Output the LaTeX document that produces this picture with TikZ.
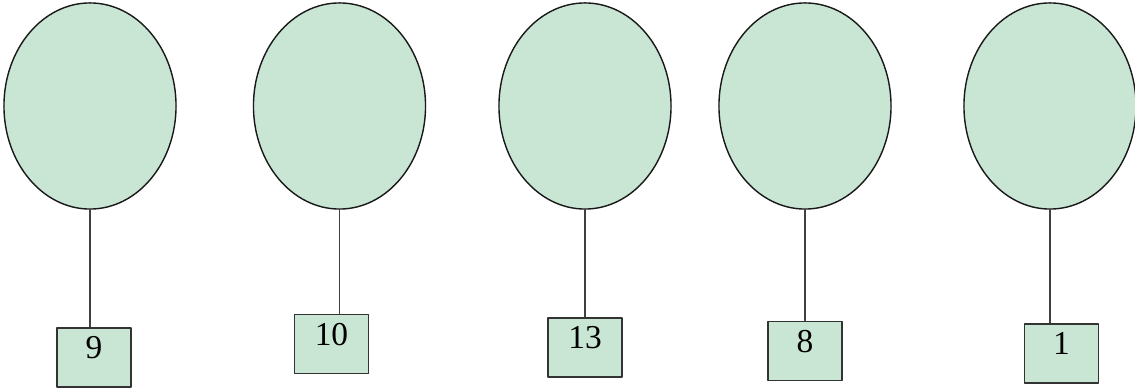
\documentclass[tikz,border=0pt]{standalone}
\usepackage{fontspec}
\setmainfont{Liberation Serif}
\usetikzlibrary{shapes.geometric}
\definecolor{leafgreen}{RGB}{201,230,213}

\begin{document}
\begin{tikzpicture}[x=0.01cm, y=-0.01cm, line cap=round, line join=round,
  bubble/.style={ellipse, draw=black!90, fill=leafgreen, line width=0.4pt, minimum width=1.72cm, minimum height=2.06cm, inner sep=0pt},
  tag/.style={rectangle, draw=black!80, fill=leafgreen, line width=0.55pt, minimum width=0.74cm, inner sep=0pt, text height=0.31cm, text depth=0.28cm, font=\fontsize{9.5}{11}\selectfont},
  stem/.style={draw=black!75, line width=0.35pt}]
\useasboundingbox (0,0) rectangle (1135,388);

\node[bubble] (e1) at (90,106) {};
\node[bubble] (e2) at (339.5,106) {};
\node[bubble] (e3) at (585,106) {};
\node[bubble] (e4) at (805,106) {};
\node[bubble] (e5) at (1050,106) {};

\node[tag] (b1) at (94,357.5) {9};
\node[tag] (b2) at (331.5,344) {10};
\node[tag] (b3) at (585,347.5) {13};
\node[tag] (b4) at (805,351) {8};
\node[tag] (b5) at (1061.5,353.5) {1};

\draw[stem] (e1.south) -- (e1.south |- b1.north);
\draw[stem] (e2.south) -- (e2.south |- b2.north);
\draw[stem] (e3.south) -- (e3.south |- b3.north);
\draw[stem] (e4.south) -- (e4.south |- b4.north);
\draw[stem] (e5.south) -- (e5.south |- b5.north);

\end{tikzpicture}
\end{document}
